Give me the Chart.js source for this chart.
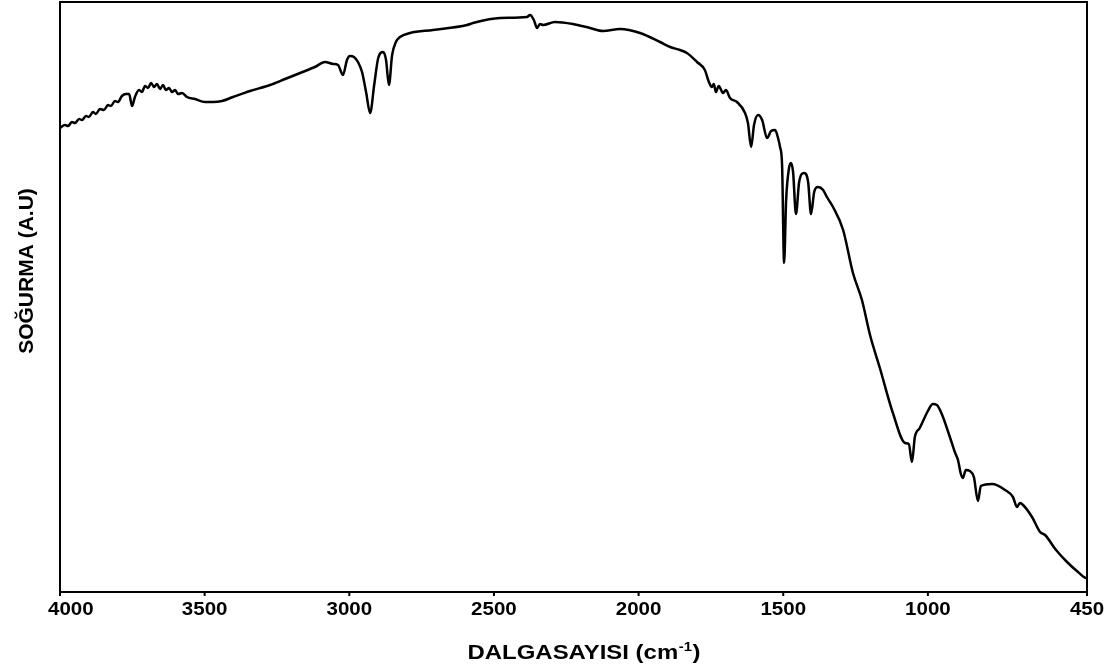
<!DOCTYPE html>
<html>
<head>
<meta charset="utf-8">
<script src="https://cdn.jsdelivr.net/npm/chart.js@4"></script>
<style>
  body { margin: 0; background: #fff; }
  #wrap { width: 1116px; height: 672px; }
</style>
</head>
<body>
<div id="wrap"><canvas id="irChart"></canvas></div>
<script>
// wavenumber (cm-1)
const wavenumbers = [
  4000, 3983, 3972, 3959, 3948, 3934, 3924, 3910, 3900, 3886, 3876, 3862, 3848, 3834, 3824, 3810,
  3800, 3786, 3772, 3761, 3751, 3741, 3727, 3717, 3706, 3696, 3685, 3675, 3665, 3654, 3644, 3634,
  3623, 3613, 3602, 3592, 3578, 3561, 3533, 3499, 3471, 3440, 3402, 3343, 3274, 3222, 3170, 3119,
  3084, 3056, 3039, 3022, 3008, 2998, 2984, 2970, 2956, 2942, 2928, 2914, 2900, 2883, 2873, 2863,
  2852, 2839, 2825, 2790, 2711, 2593, 2572, 2479, 2386, 2375, 2362, 2351, 2341, 2330, 2289, 2227,
  2168, 2123, 2064, 1995, 1926, 1891, 1857, 1833, 1798, 1771, 1757, 1747, 1740, 1733, 1723, 1708,
  1698, 1684, 1660, 1632, 1622, 1611, 1601, 1587, 1573, 1556, 1542, 1528, 1518, 1511, 1504, 1497,
  1490, 1480, 1473, 1466, 1456, 1445, 1428, 1414, 1404, 1393, 1380, 1362, 1349, 1328, 1293, 1259,
  1228, 1200, 1166, 1121, 1079, 1066, 1055, 1045, 1028, 1000, 983, 969, 952, 924, 907, 896,
  886, 879, 869, 855, 841, 827, 817, 778, 733, 706, 692, 682, 671, 640, 612, 595,
  557, 519, 481, 453, 450
];

// absorbance, arbitrary units
const absorbance = [
  464, 467, 466, 470, 469, 473, 472, 476, 475, 480, 478, 483, 482, 487, 486, 491,
  490, 496, 498, 498, 486, 495, 502, 500, 506, 504, 509, 505, 508, 503, 507, 502,
  504, 500, 502, 498, 499, 495, 493, 490, 490, 491, 495, 501, 507, 513, 519, 525,
  530, 528, 527, 517, 532, 536, 535, 530, 520, 500, 479, 507, 534, 540, 532, 507,
  537, 550, 555, 559, 562, 567, 569, 574, 575, 577, 572, 564, 568, 567, 570, 568,
  564, 561, 563, 559, 550, 545, 542, 539, 530, 522, 510, 505, 508, 500, 506, 499,
  502, 494, 490, 479, 469, 445, 467, 477, 472, 454, 461, 462, 454, 445, 427, 329,
  392, 424, 429, 420, 378, 410, 419, 410, 378, 400, 405, 402, 395, 385, 362, 319,
  292, 257, 224, 179, 149, 148, 130, 155, 164, 181, 188, 187, 178, 155, 140, 132,
  118, 114, 122, 121, 115, 91, 106, 108, 102, 95, 85, 89, 87, 75, 60, 57,
  42, 30, 20, 14, 14
];

const tickValues = [4000, 3500, 3000, 2500, 2000, 1500, 1000, 450];
const xTitle = "DALGASAYISI (cm";
const xTitleSup = "-1";
const yTitle = "SOĞURMA (A.U)";

const points = wavenumbers.map((w, i) => ({ x: w, y: absorbance[i] }));

// frame, tick marks, labels and axis titles
const framePlugin = {
  id: "frame",
  afterDraw(chart) {
    const ctx = chart.ctx;
    const area = chart.chartArea;
    const xs = chart.scales.x;
    const stretch = 1.14;
    ctx.save();
    ctx.strokeStyle = "#000";
    ctx.lineWidth = 2;
    ctx.strokeRect(area.left, area.top, area.right - area.left, area.bottom - area.top);

    ctx.fillStyle = "#000";
    ctx.font = "bold 18px 'Liberation Sans', Arial, sans-serif";
    ctx.textBaseline = "alphabetic";
    tickValues.forEach((v, i) => {
      const px = xs.getPixelForValue(v);
      ctx.beginPath();
      ctx.moveTo(px, area.bottom);
      ctx.lineTo(px, area.bottom + 4);
      ctx.stroke();
      ctx.save();
      if (i === 0) {
        ctx.translate(48, 615);
        ctx.textAlign = "left";
      } else {
        ctx.translate(px, 615);
        ctx.textAlign = "center";
      }
      ctx.scale(stretch, 1);
      ctx.fillText(String(v), 0, 0);
      ctx.restore();
    });

    // x title with superscript
    const mainFont = "bold 21px 'Liberation Sans', Arial, sans-serif";
    const supFont = "bold 13px 'Liberation Sans', Arial, sans-serif";
    ctx.font = mainFont;
    const w1 = ctx.measureText(xTitle).width;
    const w3 = ctx.measureText(")").width;
    ctx.font = supFont;
    const w2 = ctx.measureText(xTitleSup).width;
    const total = (w1 + w2 + w3 + 1) * stretch;
    ctx.save();
    ctx.translate(584 - total / 2, 659);
    ctx.scale(stretch, 1);
    ctx.textAlign = "left";
    ctx.font = mainFont;
    ctx.fillText(xTitle, 0, 0);
    ctx.font = supFont;
    ctx.fillText(xTitleSup, w1 + 0.5, -8);
    ctx.font = mainFont;
    ctx.fillText(")", w1 + w2 + 1, 0);
    ctx.restore();

    // y title
    ctx.save();
    ctx.translate(33, 271);
    ctx.rotate(-Math.PI / 2);
    ctx.textAlign = "center";
    ctx.font = mainFont;
    ctx.fillText(yTitle, 0, 0);
    ctx.restore();
    ctx.restore();
  }
};

const ctx = document.getElementById("irChart").getContext("2d");
const irChart = new Chart(ctx, {
  type: "line",
  data: {
    datasets: [{
      data: points,
      borderColor: "#000",
      borderWidth: 2.5,
      pointRadius: 0,
      cubicInterpolationMode: "monotone",
      fill: false
    }]
  },
  options: {
    responsive: true,
    maintainAspectRatio: false,
    animation: false,
    layout: { padding: { left: 60, top: 2, right: 29, bottom: 0 } },
    plugins: { legend: { display: false }, tooltip: { enabled: false } },
    scales: {
      x: {
        type: "linear",
        reverse: true,
        min: 450,
        max: 4000,
        grid: { display: false },
        border: { display: false },
        ticks: { display: false },
        afterFit(scale) { scale.height = 80; }
      },
      y: {
        display: false,
        min: 0,
        max: 590
      }
    }
  },
  plugins: [framePlugin]
});
</script>
</body>
</html>
